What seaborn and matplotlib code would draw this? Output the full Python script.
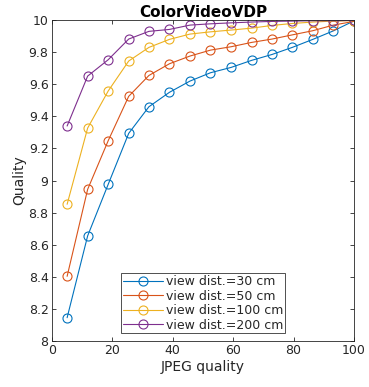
import matplotlib
matplotlib.use("Agg")
import matplotlib.pyplot as plt
import seaborn as sns
import pandas as pd

# JPEG quality levels (x axis)
jpeg_q = [5, 11.8, 18.6, 25.4, 32.1, 38.9, 45.7, 52.5, 59.3, 66.1, 72.9, 79.6, 86.4, 93.2, 100]

# quality predicted by ColorVideoVDP for each viewing distance
q_30cm = [8.145, 8.655, 8.976, 9.294, 9.46, 9.55, 9.62, 9.672, 9.705, 9.749, 9.786, 9.83, 9.88, 9.933, 9.995]
q_50cm = [8.403, 8.945, 9.248, 9.525, 9.655, 9.728, 9.776, 9.813, 9.834, 9.861, 9.882, 9.908, 9.934, 9.969, 9.992]
q_100cm = [8.852, 9.327, 9.558, 9.745, 9.83, 9.88, 9.913, 9.927, 9.938, 9.95, 9.967, 9.979, 9.988, 9.994, 9.997]
q_200cm = [9.34, 9.651, 9.753, 9.882, 9.93, 9.942, 9.969, 9.977, 9.983, 9.988, 9.992, 9.994, 9.996, 9.996, 9.998]

labels = ["view dist.=30 cm", "view dist.=50 cm", "view dist.=100 cm", "view dist.=200 cm"]
colors = ["#0072BD", "#D95319", "#EDB120", "#7E2F8E"]

sns.set_style("ticks")
plt.rcParams["font.family"] = ["DejaVu Sans"]
txt = "#262626"

fig = plt.figure(figsize=(3.69, 3.87), dpi=100)
ax = fig.add_axes([0.141, 0.119, 0.818, 0.829])

for ys, lab, c in zip([q_30cm, q_50cm, q_100cm, q_200cm], labels, colors):
    df = pd.DataFrame({"JPEG quality": jpeg_q, "Quality": ys})
    sns.lineplot(data=df, x="JPEG quality", y="Quality", ax=ax, color=c, label=lab,
                 marker="o", markersize=6.5, markerfacecolor="none", markeredgecolor=c,
                 markeredgewidth=0.8, linewidth=0.8)

ax.set_xlim(0, 100)
ax.set_ylim(8, 10)
ax.set_xticks(range(0, 101, 20))
ax.set_yticks([8, 8.2, 8.4, 8.6, 8.8, 9, 9.2, 9.4, 9.6, 9.8, 10])
ax.set_yticklabels(["8", "8.2", "8.4", "8.6", "8.8", "9", "9.2", "9.4", "9.6", "9.8", "10"])
ax.tick_params(direction="in", top=True, right=True, length=3, width=0.6,
               labelsize=9, colors=txt, pad=2.5)
for s in ax.spines.values():
    s.set_visible(True)
    s.set_linewidth(0.6)
    s.set_color(txt)

ax.set_xlabel("JPEG quality", fontsize=10, color=txt, labelpad=2)
ax.set_ylabel("Quality", fontsize=10, color=txt, labelpad=2)
ax.set_title("ColorVideoVDP", fontsize=11, fontweight="bold", color="black", pad=2)

leg = ax.legend(loc="lower center", bbox_to_anchor=(0.5, 0.0), fontsize=9,
                frameon=True, fancybox=False, borderpad=0.15, labelspacing=0.12,
                handlelength=3.2, handletextpad=0.25, borderaxespad=0.6)
leg.get_frame().set_edgecolor("black")
leg.get_frame().set_linewidth(0.6)
for t in leg.get_texts():
    t.set_color(txt)

fig.savefig("out.png", dpi=100)
